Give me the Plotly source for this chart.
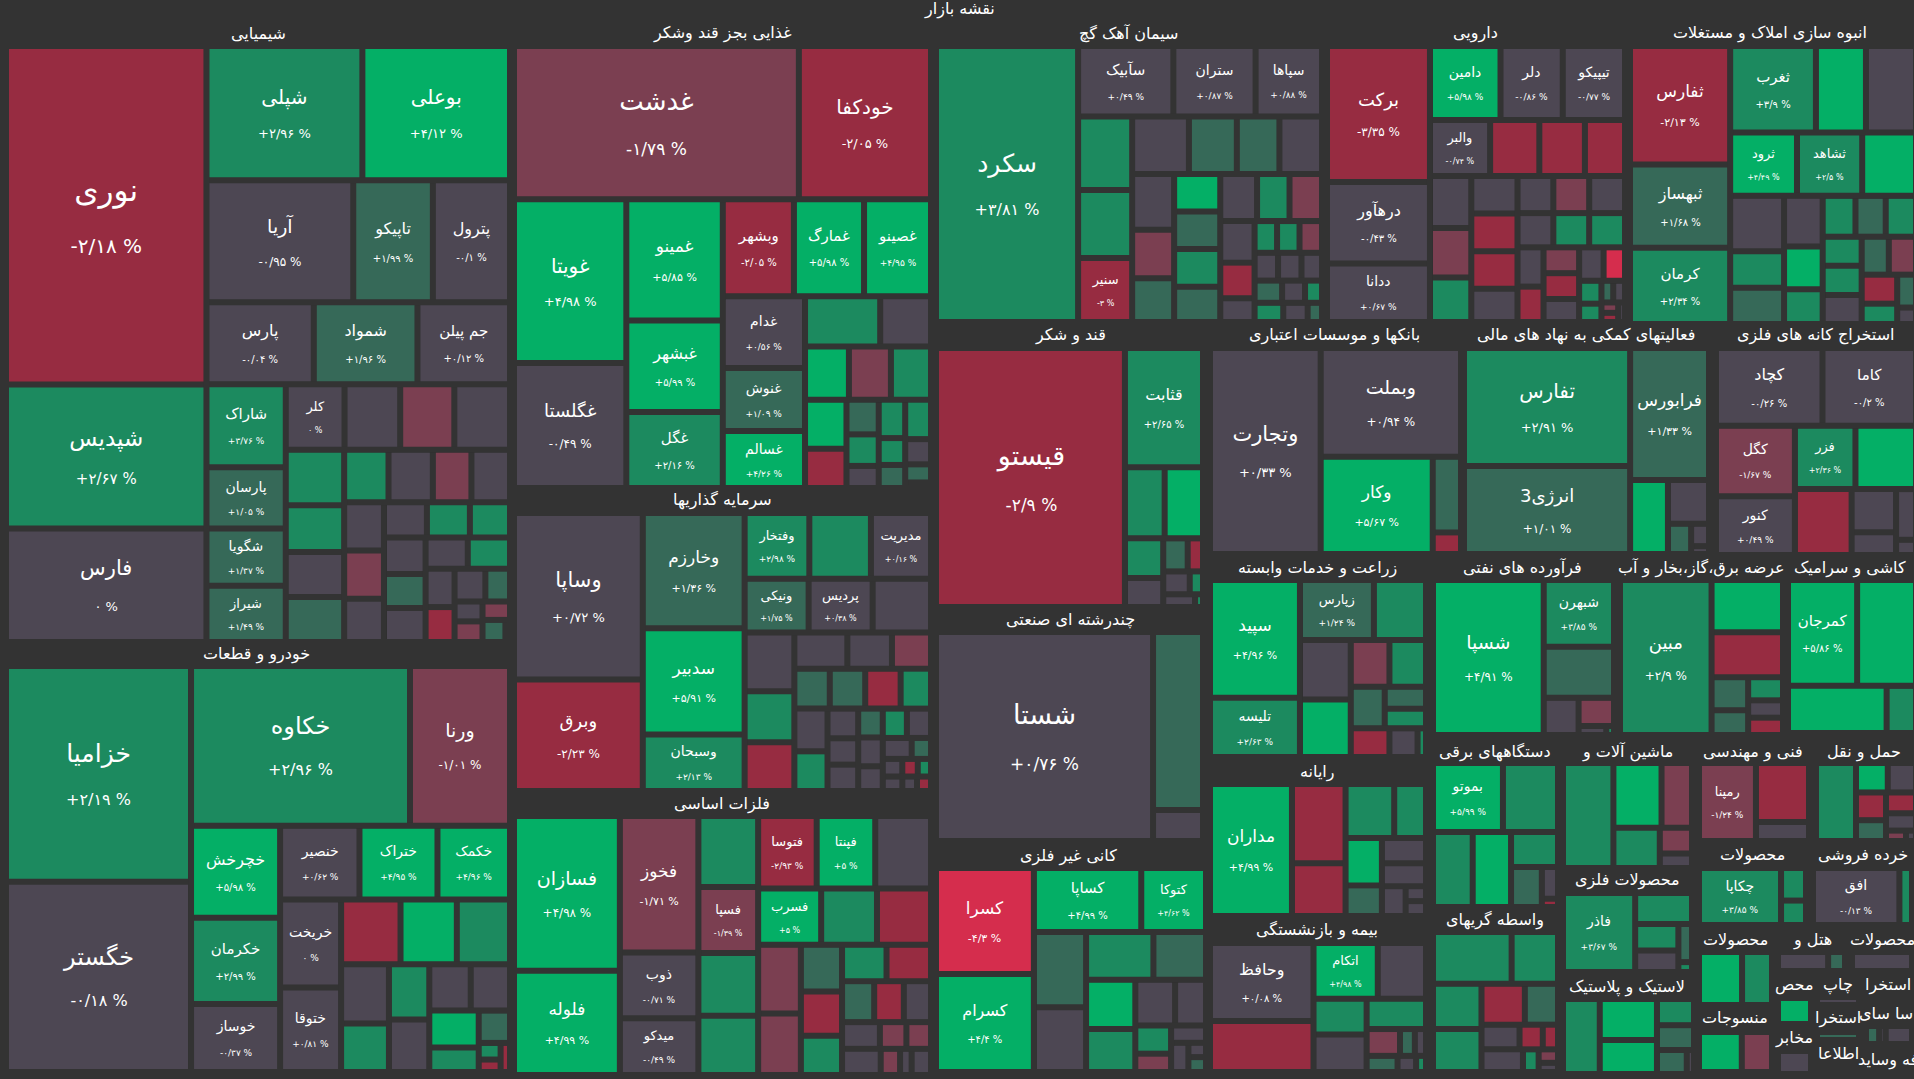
import plotly.graph_objects as go

BG = "#333333"
WIDTH = 1914
HEIGHT = 1079
FONT = "DejaVu Sans"


def X(*kids):
    return ("x", kids)


def Y(*kids):
    return ("y", kids)


# values = cell weight, change = percent move
# cells with no text on the picture have their change estimated from the colour
# *_split says how a sector is cut in columns (X) and rows (Y), numbers index the lists
chem_names = ["نوری", "شپدیس", "فارس", "شپلی", "بوعلی", "آریا", "تاپیکو", "پترول", "پارس", "شمواد", "جم پیلن", "شاراک", "پارسان", "شگویا", "شیراز", "کلر"]
chem_values = [671, 285, 225, 207, 196, 177, 96, 93, 87, 84, 75, 65, 48, 45, 44, 38, 36, 35, 36, 32, 27, 26, 26, 23, 23, 20, 20, 19, 19, 17, 15, 15, 14, 15, 14, 14, 13, 13, 11, 10, 8, 10, 5.5, 5, 5.7, 5, 1]
chem_change = [-2.18, 2.67, 0, 2.96, 4.12, -0.95, 1.99, -0.1, -0.04, 1.96, 0.12, 3.76, 1.05, 1.37, 1.49, 0, 0.3, -1.5, 0.3, 3, 3, 0.3, 1.5, 3, 0.3, -1.5, 0.3, 0.3, -1.5, 0.3, 0.3, 3, 3, 0.3, 1.5, 0.3, 0.3, 3, 0.3, 0.3, 1.5, -3, 0.3, -1.5, -1.5, 1.5, 0.3]
chem_split = X(Y(0, 1, 2), Y(X(3, 4), X(5, 6, 7), X(8, 9, 10), X(Y(11, 12, 13, 14), Y(X(15, 16, 17, 18), X(Y(19, 20, 21, 22), Y(X(23, 24, 25, 26), X(Y(27, 28, 29), Y(X(30, 31, 32), X(Y(33, 34, 35), Y(X(36, 37), X(Y(38, 41), Y(X(39, 40), X(Y(42, 44), Y(43, X(45, 46)))))))))))))))

auto_names = ["خزامیا", "خگستر", "خکاوه", "ورنا", "خچرخش", "خکرمان", "خوساز", "خنصیر", "ختراک", "خکمک", "خریخت", "ختوقا"]
auto_values = [395, 348, 346, 158, 81, 76, 60, 58, 57, 53, 53, 51, 38, 36, 34, 28, 23, 22, 21, 19, 18, 18, 12, 10, 3.6, 2.7, 2.7]
auto_change = [2.19, -0.18, 2.96, -1.01, 5.98, 2.99, -0.37, 0.62, 4.95, 4.96, 0, 0.81, -3, 5, 3, 0.3, 3, 3, 0.3, 0.3, 0.3, 5, 3, 1.5, 3, -3, -3]
auto_split = X(Y(0, 1), Y(X(2, 3), X(Y(4, 5, 6), Y(X(7, 8, 9), X(Y(10, 11), Y(X(12, 13, 14), X(Y(15, 16), Y(17, 18), Y(X(19, 20), X(Y(21, 22), Y(23, X(Y(24, 25), 26)))))))))))

food_names = ["غدشت", "خودکفا", "غویتا", "غگلستا", "غمینو", "غبشهر", "غگل", "وبشهر", "غمارگ", "غصینو", "غدام", "غنوش", "غسالم"]
food_values = [429, 199, 181, 138, 115, 87, 72, 68, 67, 64, 58, 51, 46, 37, 25, 23, 22, 21, 20, 16, 11, 10, 10, 10, 7, 6.4, 7, 6, 4.6, 1.4]
food_change = [-1.79, -2.05, 4.98, -0.49, 5.85, 5.99, 2.16, -2.05, 5.98, 4.95, 0.56, 1.09, 4.26, 3, 0.3, 5, -1.5, 3, 5, -3, 1.5, 3, 3, 3, 3, 0.3, 0.3, 1.5, 1.5, -1.5]
food_split = Y(X(0, 1), X(Y(2, 3), Y(4, 5, 6), Y(X(7, 8, 9), X(Y(10, 11, 12), Y(X(13, 14), X(15, 16, 17), X(Y(18, 19), X(Y(20, 23, 26), Y(21, 24, 27), Y(22, 25, 28, 29))))))))

invest_names = ["وساپا", "وبرق", "وخارزم", "سدبیر", "وسبحان", "وفتخار", "", "مدیریت", "ونیکی", "پردیس"]
invest_values = [212, 142, 116, 107, 57, 42, 40, 39, 34, 34, 31, 29, 25, 24, 19, 16, 14, 14, 14, 14, 12, 14, 13, 9, 8, 8, 7, 7, 7, 7, 6, 4, 6, 3.4, 2.7, 2.3, 2.8, 2.1, 2]
invest_change = [0.72, -2.23, 1.36, 5.91, 2.13, 2.98, 3, 0.16, 1.75, 0.38, 0.3, 0.3, 3, -3, 0.3, 0.3, -1.5, 1.5, 1.5, -3, 3, 0.3, 3, 0.3, 0.3, 0.3, 1.5, 3, 0.3, 0.3, 0.3, 1.5, 0.3, 0.3, -3, 3, 0.3, 0.3, -3]
invest_split = X(Y(0, 1), Y(2, 3, 4), Y(X(5, 6, 7), X(8, 9, 10), X(Y(11, 12, 13), Y(X(14, 15, 16), X(17, 18, 19, 20), X(Y(21, 22), Y(23, 24, 25), Y(26, 29, 32), Y(X(27, 28), X(30, 31), X(33, 34, 35), X(36, 37, 38)))))))

metal_names = ["فسازان", "فلوله", "فخوز", "ذوب", "میدکو", "", "فسپا", "", "", "فتوسا", "فپنتا", "", "فسرب"]
metal_values = [162, 109, 106, 51, 44, 42, 39, 37, 35, 42, 42, 40, 35, 31, 30, 29, 26, 19, 18, 16, 16, 16, 13, 12, 11, 10, 7, 6.5, 10, 5, 3, 5]
metal_change = [4.98, 4.99, -1.71, -0.71, -0.49, 3, -1.39, 3, 3, -2.93, 5, 0.3, 5, 3, -3, -1.5, -1.5, 1.5, -3, 3, 3, -3, 1.5, -3, 0.3, 0.3, -1.5, -1.5, 0.3, -1.5, 0.3, 0.3]
metal_split = X(Y(0, 1), Y(2, 3, 4), Y(5, 6, 7, 8), Y(X(9, 10, 11), X(12, 13, 14), X(Y(15, 16), Y(17, 18, 19), Y(X(20, 21), X(22, 23, 24), X(25, 26, 27), X(28, 29, 30, 31)))))

cement_names = ["سکرد", "سآبیک", "ستران", "سپاها", "", "", "سنیر"]
cement_values = [385, 66, 57, 46, 39, 36, 34, 32, 27, 24, 24, 23, 20, 18, 17, 17, 17, 16, 17, 15, 15, 14, 12, 8, 7, 7, 7, 6.4, 6.4, 5.6, 6, 5, 3.7, 5.4, 4.6, 2.7]
cement_change = [3.81, 0.49, 0.87, 0.88, 3, 3, -3, 0.3, 1.5, 1.5, 0.3, 0.3, -1.5, 1.5, 5, 1.5, 3, 1.5, 0.3, 3, -1.5, 0.3, -3, 0.3, 3, 3, -1.5, 0.3, 0.3, 0.3, 1.5, 0.3, 3, 3, 0.3, 1.5]
cement_split = X(0, Y(X(1, 2, 3), X(Y(4, 5, 6), Y(X(7, 8, 9, 10), X(Y(11, 12, 13), Y(14, 15, 16, 17), Y(X(18, 19, 20), X(Y(21, 22, 23), Y(X(24, 25, 26), X(27, 28, 29), X(30, 31, 32), X(33, 34, 35)))))))))

pharma_names = ["برکت", "درهآور", "ددانا", "دامین", "دلر", "تیپیکو", "والبر"]
pharma_values = [137, 82, 59, 51, 45, 45, 33, 27, 25, 22, 21, 20, 18, 17, 17, 17, 15, 13, 13, 13, 12, 12, 12, 10, 9, 9, 9, 8, 8, 7, 5, 4, 2.5, 2.5, 1.7, 1.5, 1.3]
pharma_change = [-3.35, -0.43, 0.67, 5.98, -0.86, -0.77, -0.74, -3, -3, -3, 0.3, -1.5, 3, 0.3, -3, -3, 0.3, 0.3, -1.5, 0.3, 0.3, 3, 3, 0.3, -3, -1.5, -3, 0.3, 0.3, -5, 3, 3, 1.5, 0.3, -1.5, -3, 0.3]
pharma_split = X(Y(0, 1, 2), Y(X(3, 4, 5), X(6, 7, 8, 9), X(Y(10, 11, 12), Y(13, 14, 15, 16), Y(X(17, 18, 19), X(20, 21, 22), X(Y(23, 24), Y(25, 26, 27), Y(X(28, 29), X(Y(30, 31), Y(X(32, 33), X(Y(34, 35), 36)))))))))

build_names = ["ثفارس", "ثبهساز", "کرمان", "ثغرب", "", "", "ثرود", "ثشاهد"]
build_values = [115, 81, 74, 72, 42, 42, 41, 40, 33, 29, 19, 19, 19, 16, 13, 13, 12, 12, 11, 11, 11, 10, 10, 10, 7, 6, 3]
build_change = [-2.13, 1.68, 2.34, 3.9, 5, 0.3, 4.49, 2.5, 5, 0.3, 3, 1.5, 0.3, 5, 3, 3, 1.5, 3, 3, 3, 0.3, 1.5, -1.5, -3, 3, 1.5, 0.3]
build_split = X(Y(0, 1, 2), Y(X(3, 4, 5), X(6, 7, 8), X(Y(9, 10, 11), Y(12, 13, 14), Y(X(15, 16, 17), X(Y(18, 19, 20), Y(X(21, 22), X(Y(23, 24), Y(25, 26))))))))

sugar_names = ["قیستو", "قثابت"]
sugar_values = [484, 92, 28, 27, 15, 11, 8, 5, 6, 3, 4, 1]
sugar_change = [-2.9, 2.65, 3, 5, 3, 0.3, 1.5, -3, 0.3, 3, 0.3, 3]
sugar_split = X(0, Y(1, X(2, 3), X(Y(4, 5), Y(X(6, 7), X(8, 9), X(10, 11)))))

multi_names = ["شستا"]
multi_values = [454, 89, 15.5]
multi_change = [0.76, 1.5, 0.3]
multi_split = X(0, Y(1, 2))

mineral_names = ["کسرا", "کسرام", "کساپا", "کتوکا"]
mineral_values = [103, 95, 68, 41, 39, 33.5, 32, 25, 24, 21, 18, 14, 10, 6.5, 6, 5, 2.5, 2.6]
mineral_change = [-4.3, 4.4, 4.99, 4.62, 1.5, 0.3, 3, 1.5, 5, 3, 0.3, 0.3, 3, -1.5, 0.3, 0.3, 0.3, 1.5]
mineral_split = X(Y(0, 1), Y(X(2, 3), X(Y(4, 5), Y(X(6, 7), X(Y(8, 9), Y(X(10, 11), X(Y(12, 13), Y(14, X(15, Y(16, 17))))))))))

bank_names = ["وتجارت", "وبملت", "وکار"]
bank_values = [224, 150, 107, 21, 6]
bank_change = [0.33, 0.94, 5.67, 1.5, -3]
bank_split = X(0, Y(1, X(2, Y(3, 4))))

finance_names = ["تفارس", "انرژی3", "فرابورس"]
finance_values = [196, 146, 104, 28, 18, 7, 4, 1.4]
finance_change = [2.91, 1.01, 1.33, 5, 0.3, 1.5, 0.3, 0.3]
finance_split = X(Y(0, 1), Y(2, X(3, Y(4, X(5, Y(6, 7))))))

mining_names = ["کچاد", "کاما", "کگل", "کنور", "فزر"]
mining_values = [82, 72, 55, 46, 38, 38, 37, 19, 10, 10, 3]
mining_change = [-0.26, -0.2, -1.67, 0.49, 2.36, 5, -3, 0.3, 0.3, 0.3, 0.3]
mining_split = Y(X(0, 1), X(Y(2, 3), Y(X(4, 5), X(6, Y(7, 9), Y(8, 10)))))

farm_names = ["سپید", "تلیسه", "زپارس"]
farm_values = [105, 53, 44, 31, 30, 29, 18, 17, 14, 9, 8, 11, 8, 2.4]
farm_change = [4.96, 2.63, 1.24, 3, 0.3, 5, -1.5, 3, 1.5, 1.5, 3, -3, 0.3, 3]
farm_split = X(Y(0, 1), Y(X(2, 3), X(Y(4, 5), Y(X(6, 7), X(8, Y(9, 10)), X(11, 12, 13)))))

computer_names = ["مداران"]
computer_values = [107, 42, 28, 26, 17, 17, 11, 11, 10, 7, 3, 3]
computer_change = [4.99, -3, -3, 3, 3, 5, 1.5, 0.3, 0.3, 0.3, 0.3, 0.3]
computer_split = X(0, Y(1, 2), Y(X(3, 4), X(Y(5, 6), Y(7, 8, X(9, Y(10, 11))))))

insurance_names = ["وحافظ", "", "اتکام"]
insurance_values = [81, 53, 36, 27, 19, 18, 20, 9, 4, 3, 5, 3, 1.6]
insurance_change = [0.08, -3, 4.98, 0.3, 3, 3, 0.3, -1.5, 1.5, 0.3, 1.5, 0.3, 3]
insurance_split = X(Y(0, 1), Y(X(2, 3), X(Y(4, 6), Y(5, X(7, 8, 9), X(10, 11, 12)))))

oil_names = ["شسپا", "شبهرن"]
oil_values = [172, 47, 36, 13, 10, 2.5, 0.7]
oil_change = [4.91, 3.85, 1.5, 0.3, -1.5, 0.3, 3]
oil_split = X(0, Y(1, 2, X(3, Y(4, X(5, 6)))))

power_names = ["مبین"]
power_values = [141, 37, 32, 12, 8, 9, 6, 6]
power_change = [2.9, 5, -3, 1.5, 3, 1.5, 0.3, -3]
power_split = X(0, Y(1, 2, X(Y(3, 5), Y(4, 6, 7))))

tile_names = ["کمرجان"]
tile_values = [74, 63, 47, 14]
tile_change = [5.86, 5, 5, 3]
tile_split = Y(X(0, 1), X(2, 3))

electric_names = ["بموتو"]
electric_values = [47, 37, 29, 28, 16, 12, 5, 1.3]
electric_change = [5.99, 3, 3, 5, 3, 1.5, 0.3, -3]
electric_split = Y(X(0, 1), X(2, 3, Y(4, X(5, Y(6, 7)))))

machine_values = [51, 30, 19, 18, 8, 4.5]
machine_change = [3, 5, -1.5, 3, -1.5, 0.3]
machine_split = X(0, Y(X(1, 2), X(3, Y(4, 5))))

engineer_names = ["رمپنا"]
engineer_values = [44, 31, 10]
engineer_change = [-1.24, -3, 0.3]
engineer_split = X(0, Y(1, 2))

transport_values = [30, 9, 8, 8, 6, 5, 6, 2, 1]
transport_change = [3, 5, 0.3, -3, -3, 0.3, 1.5, -1.5, 0.3]
transport_split = X(0, Y(X(1, 2), X(Y(3, 6), Y(4, 5, X(7, 8)))))

chem_goods_names = ["چکاپا"]
chem_goods_values = [46, 8, 6]
chem_goods_change = [3.85, 3, 3]
chem_goods_split = X(0, Y(1, 2))

retail_names = ["افق"]
retail_values = [48, 7]
retail_change = [-0.13, 3]
retail_split = X(0, 1)

food2_values = [23, 16]
food2_change = [5, 3]
food2_split = X(0, 1)

hotel_values = [9.5, 3.2]
hotel_change = [0.3, 1.5]
hotel_split = X(0, 1)

goods3_values = [1]
goods3_change = [0.3]

print_values = [1]
print_change = [0.3]

goods4_values = [1]
goods4_change = [5]

ostakh_values = [6, 3, 12]
ostakh_change = [1.5, 0.3, 0.3]
ostakh_split = X(0, 1, 2)

ostakh2_values = [1]
ostakh2_change = [1.5]

telecom_values = [1]
telecom_change = [0.3]

textile_values = [17, 12]
textile_change = [5, -1.5]
textile_split = X(0, 1)

broker_values = [39, 23, 21, 20, 17, 13, 9, 5.5, 3.6, 9, 3.4, 2.5, 1.7]
broker_change = [3, 3, 3, 3, -3, 1.5, 0.3, -3, -3, 0.3, 3, -1.5, 0.3]
broker_split = Y(X(0, 1), X(Y(2, 3), Y(X(4, 5), X(6, 7, 8), X(9, 10, Y(11, 12)))))

metalgoods_names = ["فاذر"]
metalgoods_values = [55, 17, 11, 9, 5, 1.3]
metalgoods_change = [3.67, 3, 3, 0.3, 1.5, 3]
metalgoods_split = X(0, Y(1, X(Y(2, 3), Y(4, 5))))

rubber_values = [27, 23, 19, 9.5, 9, 7, 1.7]
rubber_change = [3, 5, 5, 3, 1.5, 1.5, 0.3]
rubber_split = X(0, Y(1, 2), Y(3, 4, X(5, 6)))

# title, names, values, change, split, box in page pixels (x0, x1, y0, y1), title centre (x, y)
sectors = [
    ("شیمیایی", chem_names, chem_values, chem_change, chem_split, (9, 507, 49, 639), (258, 33)),
    ("خودرو و قطعات", auto_names, auto_values, auto_change, auto_split, (9, 507, 669, 1069), (256, 654)),
    ("غذایی بجز قند وشکر", food_names, food_values, food_change, food_split, (517, 928, 49, 485), (722, 33)),
    ("سرمایه گذاریها", invest_names, invest_values, invest_change, invest_split, (517, 928, 516, 788), (722, 500)),
    ("فلزات اساسی", metal_names, metal_values, metal_change, metal_split, (517, 928, 819, 1072), (722, 804)),
    ("سیمان آهک گچ", cement_names, cement_values, cement_change, cement_split, (939, 1319, 49, 319), (1128, 33)),
    ("دارویی", pharma_names, pharma_values, pharma_change, pharma_split, (1330, 1622, 49, 319), (1475, 33)),
    ("انبوه سازی املاک و مستغلات", build_names, build_values, build_change, build_split, (1633, 1913, 49, 321), (1770, 33)),
    ("قند و شکر", sugar_names, sugar_values, sugar_change, sugar_split, (939, 1200, 351, 604), (1070, 335)),
    ("چندرشته ای صنعتی", multi_names, multi_values, multi_change, multi_split, (939, 1200, 635, 838), (1070, 620)),
    ("کانی غیر فلزی", mineral_names, mineral_values, mineral_change, mineral_split, (939, 1203, 871, 1069), (1068, 856)),
    ("بانکها و موسسات اعتباری", bank_names, bank_values, bank_change, bank_split, (1213, 1458, 351, 551), (1334, 335)),
    ("فعالیتهای کمکی به نهاد های مالی", finance_names, finance_values, finance_change, finance_split, (1467, 1706, 351, 551), (1586, 335)),
    ("استخراج کانه های فلزی", mining_names, mining_values, mining_change, mining_split, (1719, 1913, 351, 552), (1816, 335)),
    ("زراعت و خدمات وابسته", farm_names, farm_values, farm_change, farm_split, (1213, 1423, 583, 754), (1317, 568)),
    ("رایانه", computer_names, computer_values, computer_change, computer_split, (1213, 1423, 787, 913), (1317, 772)),
    ("بیمه و بازنشستگی", insurance_names, insurance_values, insurance_change, insurance_split, (1213, 1423, 946, 1069), (1317, 930)),
    ("فرآورده های نفتی", oil_names, oil_values, oil_change, oil_split, (1436, 1611, 583, 732), (1522, 568)),
    ("عرضه برق،گاز،بخار و آب", power_names, power_values, power_change, power_split, (1623, 1780, 583, 732), (1701, 568)),
    ("کاشی و سرامیک", tile_names, tile_values, tile_change, tile_split, (1791, 1913, 583, 730), (1850, 568)),
    ("دستگاههای برقی", electric_names, electric_values, electric_change, electric_split, (1436, 1555, 766, 904), (1495, 752)),
    ("ماشین آلات و", [], machine_values, machine_change, machine_split, (1566, 1689, 766, 865), (1627, 752)),
    ("فنی و مهندسی", engineer_names, engineer_values, engineer_change, engineer_split, (1702, 1806, 766, 838), (1753, 752)),
    ("حمل و نقل", [], transport_values, transport_change, transport_split, (1819, 1913, 766, 838), (1864, 752)),
    ("محصولات", chem_goods_names, chem_goods_values, chem_goods_change, chem_goods_split, (1702, 1803, 871, 922), (1752, 855)),
    ("خرده فروشی", retail_names, retail_values, retail_change, retail_split, (1816, 1909, 871, 922), (1863, 855)),
    ("محصولات", [], food2_values, food2_change, food2_split, (1702, 1769, 955, 1002), (1735, 940)),
    ("هتل و", [], hotel_values, hotel_change, hotel_split, (1781, 1842, 955, 968), (1812, 940)),
    ("محصولات", [], goods3_values, goods3_change, X(0), (1855, 1909, 955, 968), (1882, 940)),
    ("چاپ", [], print_values, print_change, X(0), (1820, 1856, 1000, 1002), (1838, 985)),
    ("محص", [], goods4_values, goods4_change, X(0), (1781, 1808, 1001, 1021), (1794, 985)),
    ("استخرا", [], [], [], None, None, (1888, 985)),
    ("اسا سای", [], ostakh_values, ostakh_change, ostakh_split, (1869, 1909, 1029, 1041), (1888, 1013)),
    ("استخرا", [], ostakh2_values, ostakh2_change, X(0), (1820, 1856, 1035, 1037), (1838, 1018)),
    ("مخابر", [], telecom_values, telecom_change, X(0), (1781, 1808, 1054, 1071), (1794, 1038)),
    ("منسوجات", [], textile_values, textile_change, textile_split, (1702, 1769, 1035, 1069), (1735, 1018)),
    ("اطلاعا", [], [], [], None, None, (1838, 1053)),
    ("فه وساید", [], [], [], None, None, (1888, 1060)),
    ("واسطه گریهای", [], broker_values, broker_change, broker_split, (1436, 1555, 935, 1069), (1495, 920)),
    ("محصولات فلزی", metalgoods_names, metalgoods_values, metalgoods_change, metalgoods_split, (1566, 1689, 896, 969), (1627, 880)),
    ("لاستیک و پلاستیک", [], rubber_values, rubber_change, rubber_split, (1566, 1691, 1002, 1071), (1627, 987)),
]


def change_color(c):
    if c >= 4:
        return "#04AF66"
    if c >= 2:
        return "#1C8A5F"
    if c >= 1:
        return "#366958"
    if c > -1:
        return "#4D4753"
    if c > -2:
        return "#7B3F51"
    if c > -4:
        return "#972C41"
    return "#D52D4D"


def format_change(c):
    digits = str.maketrans("0123456789", "۰۱۲۳۴۵۶۷۸۹")
    txt = f"{abs(c):.2f}".rstrip("0").rstrip(".")
    sign = "" if c == 0 else ("+" if c > 0 else "-")
    return sign + txt.replace(".", "/").translate(digits) + " %"


def cell_text(name, c, size):
    if not name:
        return ""
    # the line spacing follows the trace font, so names and percents get their own sizes
    return (f"<span style='font-size:{size:.0f}px'>{name}</span><br>"
            f"<span style='font-size:{size * 0.64:.0f}px'>{format_change(c)}</span>")


def hierarchy(split, names, values, change):
    """turn a split into ids/parents; depth even cuts in columns, odd in rows (slice-dice)"""
    rows = []
    count = [0]

    def group(parent):
        count[0] += 1
        gid = f"g{count[0]}"
        rows.append((gid, parent, "", 0, BG, "", 10))
        return gid

    def walk(node, parent, depth):
        if isinstance(node, int):
            size = 7.5 + 0.9 * values[node] ** 0.5
            rows.append((f"c{node}", parent, names[node], values[node], change_color(change[node]),
                         cell_text(names[node], change[node], size), size * 1.3))
            return
        direction, kids = node
        if direction != ("x" if depth % 2 == 0 else "y"):
            parent = group(parent)
            depth += 1
        for kid in kids:
            if isinstance(kid, int):
                walk(kid, parent, depth + 1)
            else:
                walk(kid, group(parent), depth + 1)

    rows.append(("root", "", "", 0, BG, "", 10))
    walk(split, "root", 0)
    return rows


fig = go.Figure()
annotations = [dict(text="نقشه بازار", x=960 / WIDTH, y=1 - 9 / HEIGHT, xref="paper", yref="paper",
                    xanchor="center", yanchor="middle", showarrow=False,
                    font=dict(size=16, color="white", family=FONT))]

for title, names, values, change, split, box, title_pos in sectors:
    annotations.append(dict(text=title, x=title_pos[0] / WIDTH, y=1 - title_pos[1] / HEIGHT,
                            xref="paper", yref="paper", xanchor="center", yanchor="middle", showarrow=False,
                            font=dict(size=16, color="white", family=FONT)))
    if box is None:
        continue
    names = names + [""] * (len(values) - len(names))
    rows = hierarchy(split, names, values, change)
    fig.add_trace(go.Treemap(
        ids=[r[0] for r in rows],
        parents=[r[1] for r in rows],
        labels=[r[2] for r in rows],
        values=[r[3] for r in rows],
        text=[r[5] for r in rows],
        textinfo="text",
        textposition="middle center",
        textfont=dict(color="white", family=FONT, size=[r[6] for r in rows]),
        sort=False,
        branchvalues="remainder",
        marker=dict(colors=[r[4] for r in rows], line=dict(width=0), depthfade=False,
                    pad=dict(t=0, l=0, r=0, b=0)),
        tiling=dict(packing="slice-dice", pad=6),
        pathbar=dict(visible=False),
        root=dict(color=BG),
        domain=dict(x=[box[0] / WIDTH, box[1] / WIDTH], y=[1 - box[3] / HEIGHT, 1 - box[2] / HEIGHT]),
    ))

fig.update_layout(width=WIDTH, height=HEIGHT, margin=dict(l=0, r=0, t=0, b=0), paper_bgcolor=BG,
                  showlegend=False, annotations=annotations)

fig.write_html("out.html", config=dict(displayModeBar=False),
               post_script="document.body.style.margin='0';document.body.style.background='#333333';")
